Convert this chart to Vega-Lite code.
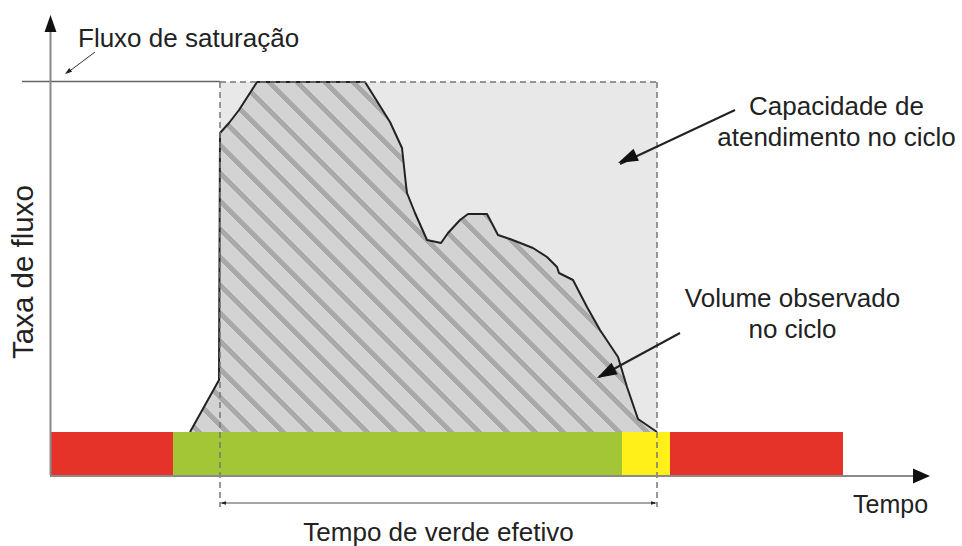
{
  "$schema": "https://vega.github.io/schema/vega-lite/v6.json",
  "width": 962,
  "height": 546,
  "autosize": {"type": "none"},
  "padding": 0,
  "background": "white",
  "config": {"view": {"stroke": null}},
  "datasets": {
    "capacidade": [{"t": 220, "t2": 657, "q": 43, "q2": 393}],
    "volume": [
      {"t": 190, "q": 43}, {"t": 219, "q": 95}, {"t": 220, "q": 342}, {"t": 229, "q": 352},
      {"t": 239, "q": 365}, {"t": 257, "q": 393}, {"t": 365, "q": 393}, {"t": 390, "q": 353},
      {"t": 402, "q": 327}, {"t": 406, "q": 290}, {"t": 407, "q": 282}, {"t": 415, "q": 262},
      {"t": 427, "q": 235}, {"t": 441, "q": 232}, {"t": 448, "q": 242}, {"t": 460, "q": 255},
      {"t": 468, "q": 261}, {"t": 487, "q": 261}, {"t": 498, "q": 240}, {"t": 510, "q": 236},
      {"t": 533, "q": 227}, {"t": 547, "q": 218}, {"t": 557, "q": 208}, {"t": 559, "q": 202},
      {"t": 573, "q": 195}, {"t": 587, "q": 168}, {"t": 600, "q": 145}, {"t": 618, "q": 118},
      {"t": 627, "q": 88}, {"t": 638, "q": 56}, {"t": 657, "q": 43}
    ],
    "fases": [
      {"t": 50, "t2": 173, "q": 0, "q2": 43, "fase": "vermelho"},
      {"t": 173, "t2": 622, "q": 0, "q2": 43, "fase": "verde"},
      {"t": 622, "t2": 670, "q": 0, "q2": 43, "fase": "amarelo"},
      {"t": 670, "t2": 843, "q": 0, "q2": 43, "fase": "vermelho"}
    ],
    "saturacao": [{"t": 22, "q": 393.5, "t2": 220, "q2": 393.5}],
    "tracejado": [
      {"t": 220, "q": 393, "t2": 657, "q2": 393},
      {"t": 220, "q": 393, "t2": 220, "q2": -32},
      {"t": 657, "q": 393, "t2": 657, "q2": -32}
    ],
    "eixos": [
      {"t": 50.5, "q": 0, "t2": 50.5, "q2": 445},
      {"t": 50, "q": -1, "t2": 915, "q2": -1}
    ],
    "verde_efetivo": [{"t": 222, "q": -28, "t2": 655, "q2": -28}],
    "setas": [
      {"t": 735, "q": 365, "t2": 620, "q2": 311},
      {"t": 680, "q": 142, "t2": 599, "q2": 98}
    ],
    "seta_fluxo": [{"t": 95, "q": 423, "t2": 67, "q2": 402}],
    "ponta_y": [{"t": 50.5, "q": 460}],
    "ponta_x": [{"t": 930, "q": -1}],
    "ponta_cap": [{"t": 618, "q": 312}],
    "ponta_vol": [{"t": 597, "q": 97}],
    "ponta_fluxo": [{"t": 65, "q": 401}],
    "ponta_esq": [{"t": 220, "q": -28}],
    "ponta_dir": [{"t": 657, "q": -28}],
    "rotulo_sat": [{"t": 78, "q": 428, "texto": "Fluxo de saturação"}],
    "rotulo_dir": [
      {"t": 836.5, "q": 360, "texto": "Capacidade de"},
      {"t": 836.5, "q": 329, "texto": "atendimento no ciclo"},
      {"t": 792.5, "q": 168, "texto": "Volume observado"},
      {"t": 792.5, "q": 137, "texto": "no ciclo"},
      {"t": 438.5, "q": -66, "texto": "Tempo de verde efetivo"}
    ],
    "rotulo_tempo": [{"t": 853, "q": -38, "texto": "Tempo"}],
    "rotulo_taxa": [{"t": 33, "q": 203, "texto": "Taxa de fluxo"}]
  },
  "encoding": {
    "x": {"field": "t", "type": "quantitative", "scale": {"domain": [0, 962], "nice": false, "zero": false}, "axis": null},
    "y": {"field": "q", "type": "quantitative", "scale": {"domain": [-71, 475], "nice": false, "zero": false}, "axis": null}
  },
  "layer": [
    {
      "data": {"name": "capacidade"},
      "mark": {"type": "rect", "fill": "#e8e8e8", "stroke": null},
      "encoding": {"x2": {"field": "t2"}, "y2": {"field": "q2"}}
    },
    {
      "data": {"name": "volume"},
      "mark": {
        "type": "area",
        "opacity": 1,
        "stroke": null,
        "fill": {
          "gradient": "linear",
          "x1": 0, "y1": 1, "x2": 1.12, "y2": 0.16,
          "stops": [
            {"offset": 0, "color": "#d3d3d3"},
            {"offset": 0.0067, "color": "#d3d3d3"}, {"offset": 0.0067, "color": "#a9a9a9"}, {"offset": 0.0153, "color": "#a9a9a9"}, {"offset": 0.0153, "color": "#d3d3d3"},
            {"offset": 0.0410, "color": "#d3d3d3"}, {"offset": 0.0410, "color": "#a9a9a9"}, {"offset": 0.0496, "color": "#a9a9a9"}, {"offset": 0.0496, "color": "#d3d3d3"},
            {"offset": 0.0753, "color": "#d3d3d3"}, {"offset": 0.0753, "color": "#a9a9a9"}, {"offset": 0.0839, "color": "#a9a9a9"}, {"offset": 0.0839, "color": "#d3d3d3"},
            {"offset": 0.1095, "color": "#d3d3d3"}, {"offset": 0.1095, "color": "#a9a9a9"}, {"offset": 0.1181, "color": "#a9a9a9"}, {"offset": 0.1181, "color": "#d3d3d3"},
            {"offset": 0.1438, "color": "#d3d3d3"}, {"offset": 0.1438, "color": "#a9a9a9"}, {"offset": 0.1524, "color": "#a9a9a9"}, {"offset": 0.1524, "color": "#d3d3d3"},
            {"offset": 0.1781, "color": "#d3d3d3"}, {"offset": 0.1781, "color": "#a9a9a9"}, {"offset": 0.1867, "color": "#a9a9a9"}, {"offset": 0.1867, "color": "#d3d3d3"},
            {"offset": 0.2124, "color": "#d3d3d3"}, {"offset": 0.2124, "color": "#a9a9a9"}, {"offset": 0.2210, "color": "#a9a9a9"}, {"offset": 0.2210, "color": "#d3d3d3"},
            {"offset": 0.2466, "color": "#d3d3d3"}, {"offset": 0.2466, "color": "#a9a9a9"}, {"offset": 0.2552, "color": "#a9a9a9"}, {"offset": 0.2552, "color": "#d3d3d3"},
            {"offset": 0.2809, "color": "#d3d3d3"}, {"offset": 0.2809, "color": "#a9a9a9"}, {"offset": 0.2895, "color": "#a9a9a9"}, {"offset": 0.2895, "color": "#d3d3d3"},
            {"offset": 0.3152, "color": "#d3d3d3"}, {"offset": 0.3152, "color": "#a9a9a9"}, {"offset": 0.3238, "color": "#a9a9a9"}, {"offset": 0.3238, "color": "#d3d3d3"},
            {"offset": 0.3494, "color": "#d3d3d3"}, {"offset": 0.3494, "color": "#a9a9a9"}, {"offset": 0.3580, "color": "#a9a9a9"}, {"offset": 0.3580, "color": "#d3d3d3"},
            {"offset": 0.3837, "color": "#d3d3d3"}, {"offset": 0.3837, "color": "#a9a9a9"}, {"offset": 0.3923, "color": "#a9a9a9"}, {"offset": 0.3923, "color": "#d3d3d3"},
            {"offset": 0.4180, "color": "#d3d3d3"}, {"offset": 0.4180, "color": "#a9a9a9"}, {"offset": 0.4266, "color": "#a9a9a9"}, {"offset": 0.4266, "color": "#d3d3d3"},
            {"offset": 0.4523, "color": "#d3d3d3"}, {"offset": 0.4523, "color": "#a9a9a9"}, {"offset": 0.4609, "color": "#a9a9a9"}, {"offset": 0.4609, "color": "#d3d3d3"},
            {"offset": 0.4865, "color": "#d3d3d3"}, {"offset": 0.4865, "color": "#a9a9a9"}, {"offset": 0.4951, "color": "#a9a9a9"}, {"offset": 0.4951, "color": "#d3d3d3"},
            {"offset": 0.5208, "color": "#d3d3d3"}, {"offset": 0.5208, "color": "#a9a9a9"}, {"offset": 0.5294, "color": "#a9a9a9"}, {"offset": 0.5294, "color": "#d3d3d3"},
            {"offset": 0.5551, "color": "#d3d3d3"}, {"offset": 0.5551, "color": "#a9a9a9"}, {"offset": 0.5637, "color": "#a9a9a9"}, {"offset": 0.5637, "color": "#d3d3d3"},
            {"offset": 0.5893, "color": "#d3d3d3"}, {"offset": 0.5893, "color": "#a9a9a9"}, {"offset": 0.5979, "color": "#a9a9a9"}, {"offset": 0.5979, "color": "#d3d3d3"},
            {"offset": 0.6236, "color": "#d3d3d3"}, {"offset": 0.6236, "color": "#a9a9a9"}, {"offset": 0.6322, "color": "#a9a9a9"}, {"offset": 0.6322, "color": "#d3d3d3"},
            {"offset": 0.6579, "color": "#d3d3d3"}, {"offset": 0.6579, "color": "#a9a9a9"}, {"offset": 0.6665, "color": "#a9a9a9"}, {"offset": 0.6665, "color": "#d3d3d3"},
            {"offset": 0.6922, "color": "#d3d3d3"}, {"offset": 0.6922, "color": "#a9a9a9"}, {"offset": 0.7008, "color": "#a9a9a9"}, {"offset": 0.7008, "color": "#d3d3d3"},
            {"offset": 0.7264, "color": "#d3d3d3"}, {"offset": 0.7264, "color": "#a9a9a9"}, {"offset": 0.7350, "color": "#a9a9a9"}, {"offset": 0.7350, "color": "#d3d3d3"},
            {"offset": 0.7607, "color": "#d3d3d3"}, {"offset": 0.7607, "color": "#a9a9a9"}, {"offset": 0.7693, "color": "#a9a9a9"}, {"offset": 0.7693, "color": "#d3d3d3"},
            {"offset": 0.7950, "color": "#d3d3d3"}, {"offset": 0.7950, "color": "#a9a9a9"}, {"offset": 0.8036, "color": "#a9a9a9"}, {"offset": 0.8036, "color": "#d3d3d3"},
            {"offset": 0.8292, "color": "#d3d3d3"}, {"offset": 0.8292, "color": "#a9a9a9"}, {"offset": 0.8378, "color": "#a9a9a9"}, {"offset": 0.8378, "color": "#d3d3d3"},
            {"offset": 0.8635, "color": "#d3d3d3"}, {"offset": 0.8635, "color": "#a9a9a9"}, {"offset": 0.8721, "color": "#a9a9a9"}, {"offset": 0.8721, "color": "#d3d3d3"},
            {"offset": 0.8978, "color": "#d3d3d3"}, {"offset": 0.8978, "color": "#a9a9a9"}, {"offset": 0.9064, "color": "#a9a9a9"}, {"offset": 0.9064, "color": "#d3d3d3"},
            {"offset": 0.9321, "color": "#d3d3d3"}, {"offset": 0.9321, "color": "#a9a9a9"}, {"offset": 0.9407, "color": "#a9a9a9"}, {"offset": 0.9407, "color": "#d3d3d3"},
            {"offset": 0.9663, "color": "#d3d3d3"}, {"offset": 0.9663, "color": "#a9a9a9"}, {"offset": 0.9749, "color": "#a9a9a9"}, {"offset": 0.9749, "color": "#d3d3d3"},
            {"offset": 1, "color": "#d3d3d3"}
          ]
        }
      },
      "encoding": {"y2": {"datum": 43}}
    },
    {
      "data": {"name": "volume"},
      "mark": {"type": "line", "color": "#222222", "strokeWidth": 2, "strokeJoin": "round"},
      "encoding": {}
    },
    {
      "data": {"name": "fases"},
      "mark": {"type": "rect", "stroke": null},
      "encoding": {
        "x2": {"field": "t2"},
        "y2": {"field": "q2"},
        "color": {"field": "fase", "type": "nominal", "scale": {"domain": ["vermelho", "verde", "amarelo"], "range": ["#e5332a", "#a2c636", "#fff01a"]}, "legend": null}
      }
    },
    {
      "data": {"name": "saturacao"},
      "mark": {"type": "rule", "color": "#666666", "strokeWidth": 1.5},
      "encoding": {"x2": {"field": "t2"}, "y2": {"field": "q2"}}
    },
    {
      "data": {"name": "tracejado"},
      "mark": {"type": "rule", "color": "#777777", "strokeWidth": 1.5, "strokeDash": [6, 4]},
      "encoding": {"x2": {"field": "t2"}, "y2": {"field": "q2"}}
    },
    {
      "data": {"name": "eixos"},
      "mark": {"type": "rule", "color": "#8a8a8a", "strokeWidth": 2},
      "encoding": {"x2": {"field": "t2"}, "y2": {"field": "q2"}}
    },
    {
      "data": {"name": "verde_efetivo"},
      "mark": {"type": "rule", "color": "#888888", "strokeWidth": 1.5},
      "encoding": {"x2": {"field": "t2"}, "y2": {"field": "q2"}}
    },
    {
      "data": {"name": "setas"},
      "mark": {"type": "rule", "color": "#222222", "strokeWidth": 2},
      "encoding": {"x2": {"field": "t2"}, "y2": {"field": "q2"}}
    },
    {
      "data": {"name": "seta_fluxo"},
      "mark": {"type": "rule", "color": "#333333", "strokeWidth": 1},
      "encoding": {"x2": {"field": "t2"}, "y2": {"field": "q2"}}
    },
    {
      "data": {"name": "ponta_y"},
      "mark": {"type": "point", "shape": "M0,0 L0.7,2 L-0.7,2 Z", "size": 289, "angle": 0, "filled": true, "fill": "#111111", "stroke": null, "opacity": 1},
      "encoding": {}
    },
    {
      "data": {"name": "ponta_x"},
      "mark": {"type": "point", "shape": "M0,0 L0.88,2 L-0.88,2 Z", "size": 289, "angle": 90, "filled": true, "fill": "#111111", "stroke": null, "opacity": 1},
      "encoding": {}
    },
    {
      "data": {"name": "ponta_cap"},
      "mark": {"type": "point", "shape": "M0,0 L0.65,2 L-0.65,2 Z", "size": 400, "angle": 245.6, "filled": true, "fill": "#111111", "stroke": null, "opacity": 1},
      "encoding": {}
    },
    {
      "data": {"name": "ponta_vol"},
      "mark": {"type": "point", "shape": "M0,0 L0.65,2 L-0.65,2 Z", "size": 400, "angle": 241.5, "filled": true, "fill": "#111111", "stroke": null, "opacity": 1},
      "encoding": {}
    },
    {
      "data": {"name": "ponta_fluxo"},
      "mark": {"type": "point", "shape": "M0,0 L0.7,2 L-0.7,2 Z", "size": 49, "angle": 233.7, "filled": true, "fill": "#222222", "stroke": null, "opacity": 1},
      "encoding": {}
    },
    {
      "data": {"name": "ponta_esq"},
      "mark": {"type": "point", "shape": "M0,0 L0.6,2 L-0.6,2 Z", "size": 36, "angle": 270, "filled": true, "fill": "#222222", "stroke": null, "opacity": 1},
      "encoding": {}
    },
    {
      "data": {"name": "ponta_dir"},
      "mark": {"type": "point", "shape": "M0,0 L0.6,2 L-0.6,2 Z", "size": 36, "angle": 90, "filled": true, "fill": "#222222", "stroke": null, "opacity": 1},
      "encoding": {}
    },
    {
      "data": {"name": "rotulo_sat"},
      "mark": {"type": "text", "font": "Liberation Sans", "fontSize": 26, "color": "#222222", "align": "left", "baseline": "alphabetic"},
      "encoding": {"text": {"field": "texto"}}
    },
    {
      "data": {"name": "rotulo_dir"},
      "mark": {"type": "text", "font": "Liberation Sans", "fontSize": 26, "color": "#222222", "align": "center", "baseline": "alphabetic"},
      "encoding": {"text": {"field": "texto"}}
    },
    {
      "data": {"name": "rotulo_tempo"},
      "mark": {"type": "text", "font": "Liberation Sans", "fontSize": 25, "color": "#222222", "align": "left", "baseline": "alphabetic"},
      "encoding": {"text": {"field": "texto"}}
    },
    {
      "data": {"name": "rotulo_taxa"},
      "mark": {"type": "text", "font": "Liberation Sans", "fontSize": 29.5, "color": "#222222", "align": "center", "baseline": "alphabetic", "angle": -90},
      "encoding": {"text": {"field": "texto"}}
    }
  ]
}
